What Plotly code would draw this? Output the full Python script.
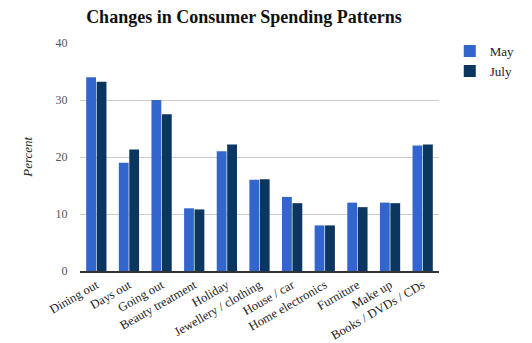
import plotly.graph_objects as go

categories = ["Dining out", "Days out", "Going out", "Beauty treatment", "Holiday",
              "Jewellery / clothing", "House / car", "Home electronics", "Furniture",
              "Make up", "Books / DVDs / CDs"]
may = [34, 19, 30, 11, 21, 16, 13, 8, 12, 12, 22]
july = [33.2, 21.3, 27.5, 10.8, 22.2, 16.1, 11.9, 8, 11.2, 11.9, 22.2]
y_ticks = [0, 10, 20, 30, 40]

serif = "'Liberation Serif', 'DejaVu Serif', serif"

fig = go.Figure()
fig.add_trace(go.Bar(name="May", x=categories, y=may, marker_color="#3366cc",
                     marker_line_width=0))
fig.add_trace(go.Bar(name="July", x=categories, y=july, marker_color="#0b3660",
                     marker_line_width=0))

fig.update_layout(
    width=532, height=343,
    margin=dict(l=80, r=80, t=43, b=72),
    paper_bgcolor="white", plot_bgcolor="white",
    barmode="group", bargap=0.36, bargroupgap=0.06,
    title=dict(text="<b>Changes in Consumer Spending Patterns</b>",
               x=244 / 532, xanchor="center", y=1 - 17 / 343, yanchor="middle",
               font=dict(family=serif, size=18, color="#111")),
    legend=dict(x=1.03, y=1.03, xanchor="left", yanchor="top",
                font=dict(family=serif, size=13, color="#222"),
                itemwidth=30, tracegroupgap=4),
    font=dict(family=serif),
    annotations=[dict(text="<i>Percent</i>", xref="paper", yref="paper",
                      x=(15 - 80) / 372, y=0.5, textangle=-90, showarrow=False,
                      font=dict(family=serif, size=13, color="#222"))],
)
fig.update_xaxes(tickangle=-30, tickfont=dict(family=serif, size=12.5, color="#222"),
                 showline=True, linecolor="#333", linewidth=2, ticks="",
                 showgrid=False, automargin=False)
fig.update_yaxes(range=[0, 40], tickvals=y_ticks, gridcolor="#cccccc", gridwidth=1,
                 tickfont=dict(family=serif, size=12, color="#555"),
                 ticks="outside", ticklen=9, tickcolor="rgba(0,0,0,0)",
                 zeroline=False, showline=False, automargin=False)

fig.write_html("out.html")
